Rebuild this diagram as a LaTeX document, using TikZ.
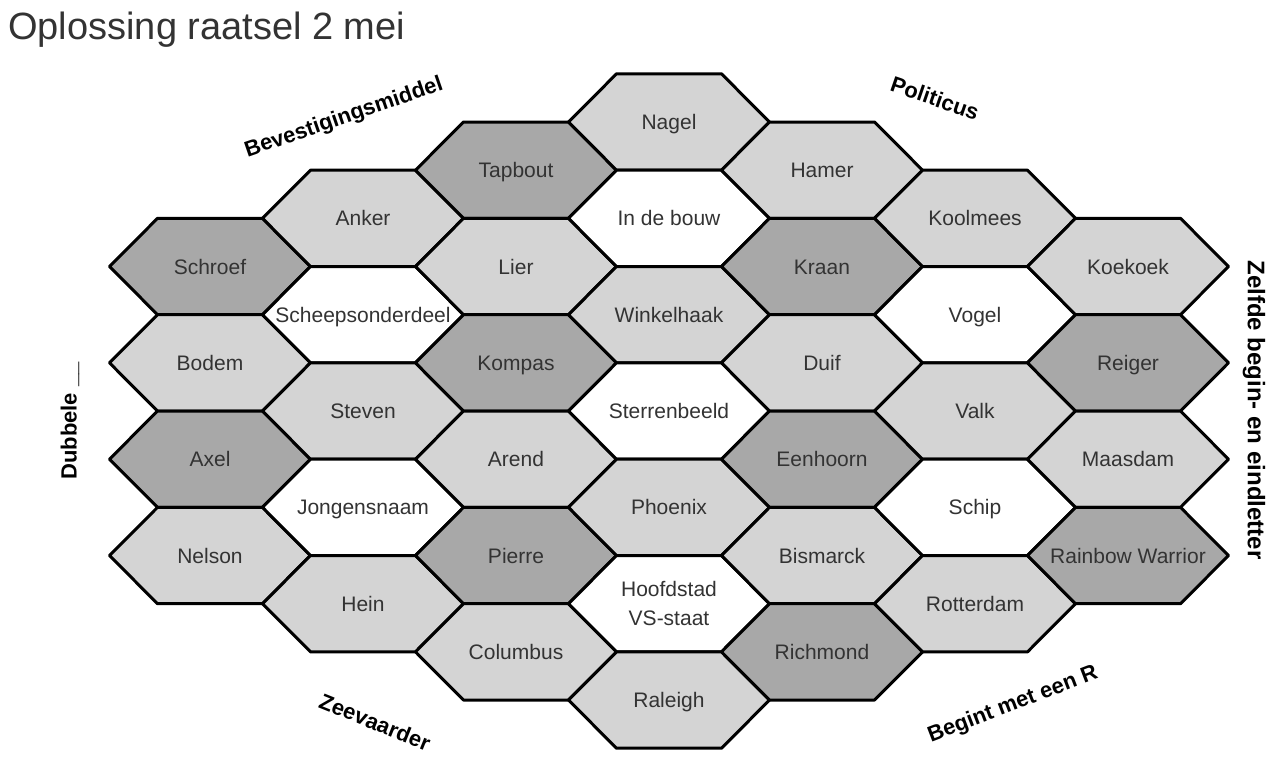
\documentclass[tikz,border=0pt]{standalone}
\usepackage{fontspec}
\setmainfont{Liberation Sans}
\definecolor{hexlight}{HTML}{D4D4D4}
\definecolor{hexdark}{HTML}{A8A8A8}
\definecolor{txt}{HTML}{333333}
\tikzset{
  cellline/.style={draw=black, line width=3pt, line join=round},
  celltext/.style={text=txt, font=\fontsize{21}{29}\selectfont, align=center, inner sep=0pt, text height=15pt, text depth=0pt},
  cluelabel/.style={text=black, font=\bfseries\fontsize{22}{26}\selectfont, inner sep=0pt},
  titletext/.style={text=txt, font=\fontsize{38}{42}\selectfont, inner sep=0pt, anchor=base west}
}
\newcommand\hexcell[6][]{%
  \path[cellline, fill=#4] ({210+153*#2},{122+48.17*#3}) ++(-100.5,0) -- ++(48,-48.17) -- ++(105,0) -- ++(48,48.17) -- ++(-48,48.17) -- ++(-105,0) -- cycle;
  \node[celltext,#1] (#5) at ({210+153*#2},{122+48.17*#3}) {#6};
}
\begin{document}
\begin{tikzpicture}[x=1pt,y=-1pt]
\useasboundingbox[fill=white] (0,0) rectangle (1288,768);
\node[titletext] (title) at (8,40) {Oplossing raatsel 2 mei};
% column 0
\hexcell{0}{3}{hexdark}{schroef}{Schroef}
\hexcell{0}{5}{hexlight}{bodem}{Bodem}
\hexcell{0}{7}{hexdark}{axel}{Axel}
\hexcell{0}{9}{hexlight}{nelson}{Nelson}
% column 1
\hexcell{1}{2}{hexlight}{anker}{Anker}
\hexcell{1}{4}{white}{scheeps}{Scheepsonderdeel}
\hexcell{1}{6}{hexlight}{steven}{Steven}
\hexcell{1}{8}{white}{jongens}{Jongensnaam}
\hexcell{1}{10}{hexlight}{hein}{Hein}
% column 2
\hexcell{2}{1}{hexdark}{tapbout}{Tapbout}
\hexcell{2}{3}{hexlight}{lier}{Lier}
\hexcell{2}{5}{hexdark}{kompas}{Kompas}
\hexcell{2}{7}{hexlight}{arend}{Arend}
\hexcell{2}{9}{hexdark}{pierre}{Pierre}
\hexcell{2}{11}{hexlight}{columbus}{Columbus}
% column 3
\hexcell{3}{0}{hexlight}{nagel}{Nagel}
\hexcell{3}{2}{white}{bouw}{In de bouw}
\hexcell{3}{4}{hexlight}{winkelhaak}{Winkelhaak}
\hexcell{3}{6}{white}{sterren}{Sterrenbeeld}
\hexcell{3}{8}{hexlight}{phoenix}{Phoenix}
\hexcell[yshift=-14pt]{3}{10}{white}{hoofdstad}{Hoofdstad\\VS-staat}
\hexcell{3}{12}{hexlight}{raleigh}{Raleigh}
% column 4
\hexcell{4}{1}{hexlight}{hamer}{Hamer}
\hexcell{4}{3}{hexdark}{kraan}{Kraan}
\hexcell{4}{5}{hexlight}{duif}{Duif}
\hexcell{4}{7}{hexdark}{eenhoorn}{Eenhoorn}
\hexcell{4}{9}{hexlight}{bismarck}{Bismarck}
\hexcell{4}{11}{hexdark}{richmond}{Richmond}
% column 5
\hexcell{5}{2}{hexlight}{koolmees}{Koolmees}
\hexcell{5}{4}{white}{vogel}{Vogel}
\hexcell{5}{6}{hexlight}{valk}{Valk}
\hexcell{5}{8}{white}{schip}{Schip}
\hexcell{5}{10}{hexlight}{rotterdam}{Rotterdam}
% column 6
\hexcell{6}{3}{hexlight}{koekoek}{Koekoek}
\hexcell{6}{5}{hexdark}{reiger}{Reiger}
\hexcell{6}{7}{hexlight}{maasdam}{Maasdam}
\hexcell{6}{9}{hexdark}{rainbow}{Rainbow Warrior}
% clue labels
\node[cluelabel, rotate=19] (bevest) at (344,118) {Bevestigingsmiddel};
\node[cluelabel, rotate=-19] (politicus) at (935,98) {Politicus};
\node[cluelabel, rotate=-90, font=\bfseries\fontsize{24}{28}\selectfont] (zelfde) at (1254,410) {Zelfde begin- en eindletter};
\node[cluelabel, rotate=90] (dubbele) at (70,421) {Dubbele \_\_};
\node[cluelabel, rotate=-22] (zeevaarder) at (375,722) {Zeevaarder};
\node[cluelabel, rotate=21] (begint) at (1013,705) {Begint met een R};
\end{tikzpicture}
\end{document}
